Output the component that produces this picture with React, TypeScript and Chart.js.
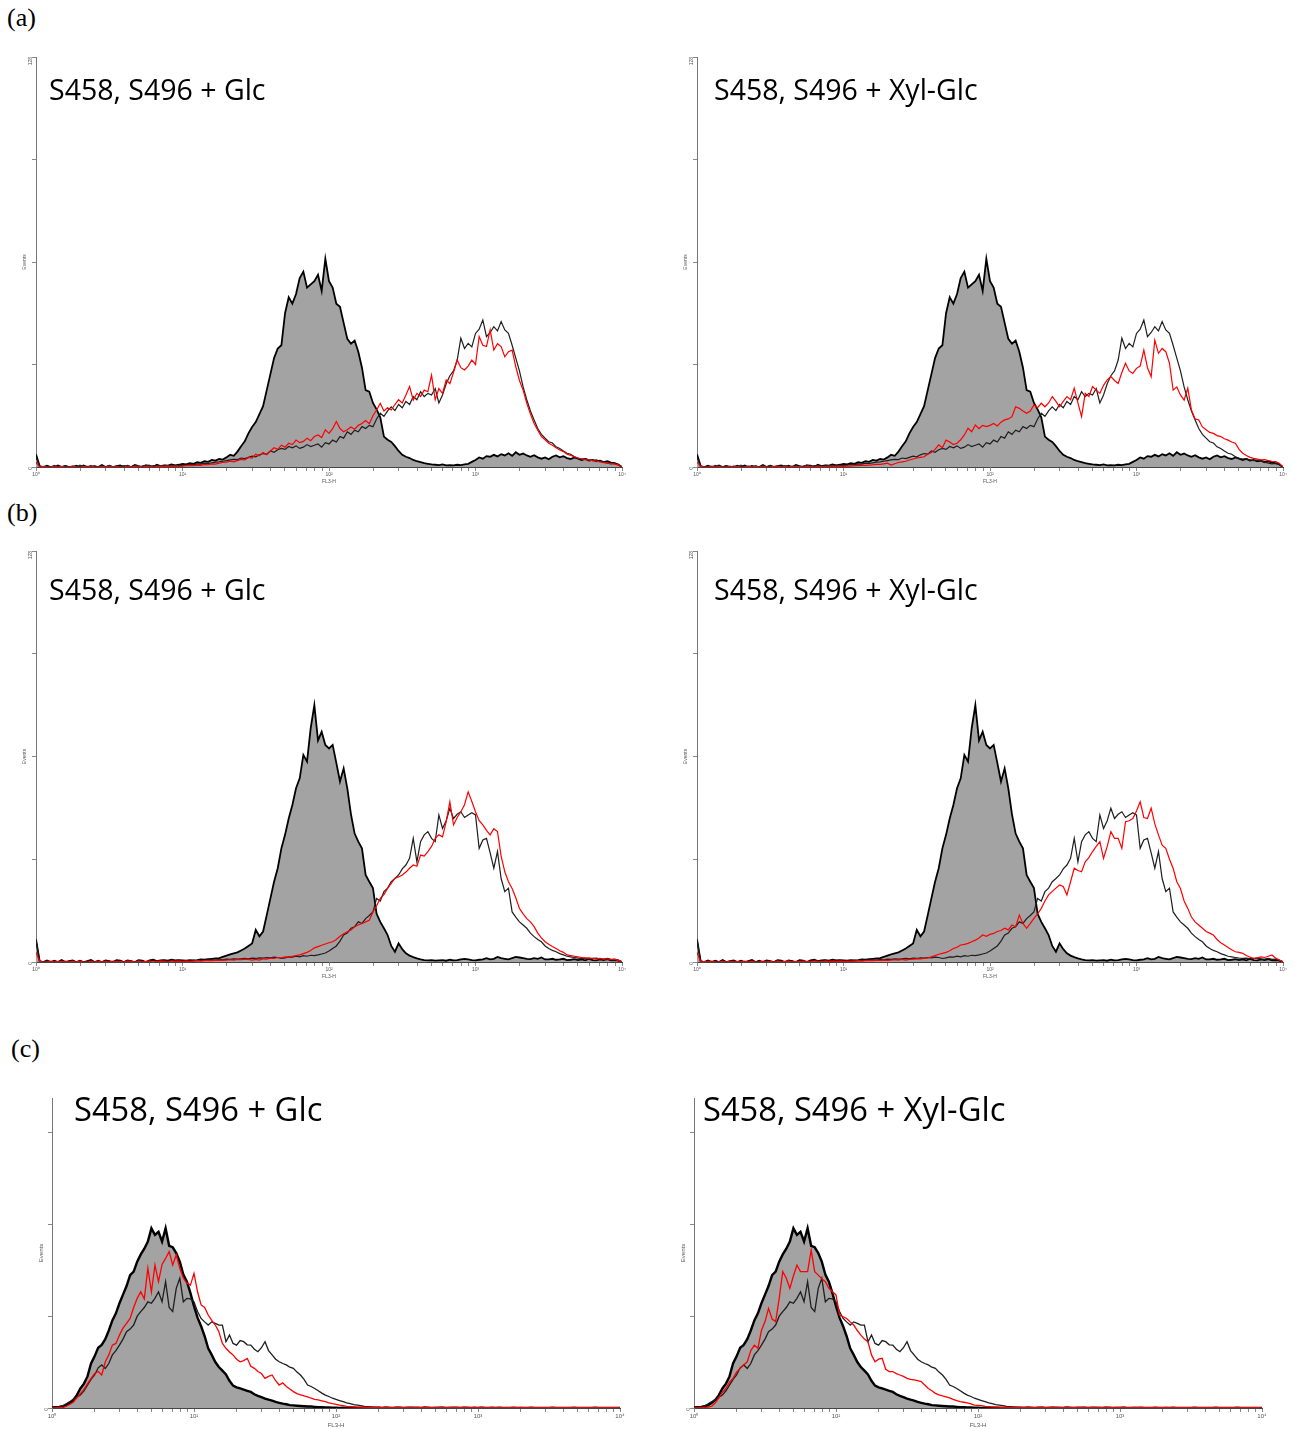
import React, { useEffect, useRef } from 'react';
import { Chart, registerables } from 'chart.js';

Chart.register(...registerables);

// ---------- axis / label data ----------
const LOG_STEP = 0.025; // histogram channels: 40 per decade, 10^0 .. 10^4
const X_DECADES = [1, 10, 100, 1000, 10000];
const X_TICK_LABELS = ['10\u2070', '10\u00b9', '10\u00b2', '10\u00b3', '10\u2074'];
const X_MINOR_STEPS = [1, 2, 3, 4, 5, 6, 7, 8, 9];
const Y_TICKS_AB = [0, 32, 64, 96, 128];
const Y_TICK_LABELS_AB = ['0', '', '', '', '128'];
const Y_TICKS_C = [0, 32, 64, 96];
const Y_TICK_LABELS_C = ['0', '', '', ''];
const Y_MAX_AB = 128;
const Y_MAX_C = 108;
const X_TITLE = 'FL3-H';
const Y_TITLE = 'Events';
const TITLE_GLC = 'S458, S496 + Glc';
const TITLE_XYL = 'S458, S496 + Xyl-Glc';
const PANEL_LABELS = ['(a)', '(b)', '(c)'];

// ---------- row (a) ----------
const GRAY_A = [
  4, 0.3, 0, 0.4, 0, 0, 0.5, 0, 0.3, 0,
  0, 0.4, 0, 0.5, 0, 0.3, 0, 0, 0.6, 0,
  0.4, 0, 0.3, 0.5, 0, 0.4, 0, 0.6, 0.3, 0,
  0.5, 0.4, 0, 0.7, 0.3, 0.5, 0.4, 0.8, 0.5, 0.7,
  1.0, 0.8, 1.2, 1.0, 1.5, 1.3, 1.8, 1.6, 2.2, 2.0,
  2.5, 2.3, 3.0, 3.8, 3.5, 4.8, 6.5, 8.0, 10.5, 12.5,
  14.0, 16.5, 19, 24, 29, 34, 37, 38, 48, 53,
  51, 54, 59, 61, 56, 57, 58, 60, 55, 65,
  58, 56, 51, 50, 45, 40, 38.5, 39.5, 36, 31,
  24, 23.5, 20, 18, 15.5, 9.5, 8.5, 7.8, 6.5, 5,
  3.8, 3.2, 2.8, 2.2, 1.8, 1.5, 1.2, 1.0, 0.8, 0.7,
  0.6, 0.8, 0.5, 0.6, 0.5, 0.7, 0.6, 0.8, 1.0, 1.6,
  2.2, 3.0, 2.6, 3.4, 3.2, 3.8, 3.3, 4.0, 3.6, 4.3,
  3.5, 4.6, 3.8, 4.2, 3.6, 3.2, 3.7, 3.0, 2.6, 3.0,
  2.4, 3.2, 3.6, 3.0, 3.4, 2.8, 2.5, 3.0, 2.6, 2.2,
  2.5, 2.0, 2.2, 1.8, 2.0, 1.5, 1.8, 1.4, 1.2, 0.8,
  0,
];
const BLACK_A = [
  3, 0.2, 0, 0.3, 0, 0.5, 0, 0, 0.4, 0,
  0.3, 0, 0.6, 0, 0.2, 0, 0.4, 0, 0.3, 0,
  0.5, 0, 0.3, 0, 0.4, 0.2, 0, 0.5, 0, 0.3,
  0.6, 0, 0.4, 0.3, 0, 0.5, 0.4, 0.3, 0.5, 0.4,
  0.5, 0.6, 0.8, 0.7, 1.0, 0.9, 1.2, 1.1, 1.3, 1.5,
  1.6, 1.8, 2.0, 2.2, 2.4, 2.3, 2.8, 2.6, 3.0, 3.4,
  3.2, 3.8, 4.2, 4.0, 5.0, 4.6, 5.4, 5.8, 5.5, 6.4,
  6.0, 6.6, 5.8, 6.2, 7.0, 6.4, 6.8, 7.2, 6.2, 7.6,
  7.2, 8.4, 7.8, 9.5, 9.0, 11.0, 10.2, 11.5, 11.0, 12.6,
  12.0, 13.0, 12.6, 15.0, 16.8, 15.8, 17.5, 18.8, 17.6, 19.5,
  18.5, 20.5, 19.5, 22.0, 21.0, 23.5, 22.0, 23.0, 22.5, 24.5,
  20.0, 22.5, 26.0, 28.5, 30.0, 33.4, 40.2, 37.0, 38.6, 37.5,
  41.7, 43.0, 45.9, 40.7, 42.0, 43.8, 42.5, 45.4, 42.8, 41.7,
  38.0, 34.0, 30.0, 25.0, 21.0, 17.5, 14.7, 12.0, 10.2, 9.0,
  7.9, 7.5, 6.3, 5.8, 5.0, 4.3, 4.0, 3.2, 2.7, 2.5,
  2.6, 2.2, 2.0, 2.2, 1.8, 1.5, 1.2, 1.0, 1.1, 0.8,
  0,
];
const RED_A_GLC = [
  1.5, 0, 0.2, 0, 0, 0.3, 0, 0.2, 0, 0,
  0.3, 0, 0, 0.2, 0, 0.3, 0, 0, 0.2, 0,
  0.3, 0, 0.2, 0, 0, 0.3, 0, 0.2, 0.3, 0,
  0.2, 0.3, 0, 0.2, 0.3, 0.2, 0.3, 0.2, 0.3, 0.2,
  0.3, 0.4, 0.5, 0.4, 0.6, 0.5, 0.8, 0.7, 1.0, 0.9,
  1.2, 1.4, 1.5, 1.8, 1.6, 2.0, 2.4, 2.2, 3.0, 2.8,
  4.0, 3.5, 4.5, 3.8, 5.0, 6.0, 5.5, 6.8, 6.2, 7.4,
  7.0, 8.4, 7.6, 8.0, 9.0, 8.2, 9.5, 10.0, 9.2, 11.6,
  10.5, 12.0, 14.2, 12.0, 11.0, 11.6, 12.5, 11.8, 13.0, 13.6,
  14.5, 13.5, 16.0, 17.8, 19.9, 17.5, 18.5, 17.8, 19.5, 21.0,
  20.0, 22.5, 25.1, 20.9, 23.0, 22.0, 24.0, 23.5, 28.7, 21.0,
  24.5, 23.0, 27.2, 26.0, 29.5, 33.4, 31.0, 30.3, 31.5, 33.4,
  32.0, 40.7, 38.0, 37.6, 42.8, 36.5, 38.5, 37.6, 34.4, 36.0,
  36.5, 31.3, 27.0, 24.0, 19.9, 16.5, 13.6, 11.5, 9.5, 8.5,
  7.4, 6.8, 6.0, 5.3, 4.8, 4.0, 3.6, 3.2, 2.8, 2.5,
  2.3, 2.2, 2.0, 1.8, 1.6, 1.4, 1.2, 1.1, 0.9, 0.6,
  0,
];
const RED_A_XYL = [
  1.5, 0.2, 0, 0, 0.3, 0, 0.2, 0, 0, 0.3,
  0, 0.2, 0, 0, 0.3, 0, 0.2, 0, 0.3, 0,
  0, 0.2, 0.3, 0, 0.2, 0, 0.3, 0, 0.2, 0,
  0.3, 0.2, 0, 0.3, 0.2, 0, 0.3, 0.2, 0.2, 0.3,
  0.2, 0.3, 0.3, 0.4, 0.4, 0.5, 0.5, 0.6, 0.7, 0.8,
  0.8, 1.0, 1.2, 0.6, 1.0, 1.4, 1.6, 1.8, 2.2, 2.5,
  2.8, 3.0, 3.2, 4.0, 4.5, 5.5, 6.9, 6.0, 8.4, 7.8,
  7.0, 7.4, 8.5, 10.0, 12.1, 11.0, 13.1, 12.0, 13.0, 12.6,
  13.0, 13.6, 12.8, 14.0, 14.7, 15.0, 15.7, 18.8, 18.3, 17.5,
  16.8, 17.5, 19.4, 18.5, 19.9, 18.8, 20.0, 22.0, 20.5, 18.8,
  20.5, 22.0, 21.0, 24.6, 20.0, 15.7, 23.0, 22.0, 25.1, 24.0,
  23.0, 25.5, 27.2, 28.2, 27.0, 26.1, 29.5, 32.4, 30.0, 29.2,
  30.8, 31.5, 36.5, 31.0, 28.2, 39.6, 35.5, 37.0, 36.0, 32.4,
  24.0, 25.0, 22.5, 20.9, 24.6, 17.8, 15.0, 14.7, 12.5, 11.6,
  10.8, 10.5, 9.8, 9.5, 8.8, 8.4, 7.8, 7.4, 5.5, 4.3,
  3.6, 3.0, 2.7, 2.5, 2.2, 2.3, 2.0, 1.8, 1.7, 1.2,
  0,
];

// ---------- row (b) ----------
const GRAY_B = [
  7, 0.3, 0, 0.5, 0, 0.4, 0, 0.6, 0, 0.3,
  0.5, 0, 0.4, 0, 0.3, 0.6, 0, 0.4, 0, 0.5,
  0.3, 0, 0.6, 0.4, 0, 0.5, 0.3, 0, 0.6, 0.4,
  0, 0.5, 0.7, 0.3, 0.5, 0.6, 0.4, 0.7, 0.5, 0.6,
  0.5, 0.4, 0.6, 0.5, 0.6, 0.8, 0.7, 0.9, 1.0, 1.1,
  1.2, 1.6, 2.0, 2.4, 2.7, 3.0, 3.6, 4.2, 5.0, 5.8,
  10.0, 8.0, 9.5, 14.6, 19.8, 25.0, 29.2, 35.4, 39.6, 44.7,
  48.9, 54.1, 57.2, 64.5, 62.4, 72.8, 80.0, 69.0, 71.7, 67.6,
  66.5, 67.6, 62.0, 56.2, 60.3, 54.1, 46.0, 40.0, 37.5, 35.4,
  27.1, 25.0, 23.0, 15.0, 12.5, 10.5, 8.4, 5.0, 3.2, 5.8,
  4.0, 2.7, 2.0, 1.5, 1.1, 0.8, 0.6, 0.5, 0.6, 0.4,
  0.5, 0.6, 0.4, 0.7, 0.5, 0.6, 0.8, 1.0, 0.8, 0.6,
  0.5, 0.7, 0.8, 1.2, 0.8, 1.0, 1.6, 1.2, 1.0, 0.8,
  1.2, 1.6, 1.4, 1.2, 1.0, 0.9, 1.2, 1.0, 1.4, 0.8,
  0.8, 1.0, 0.7, 0.8, 1.0, 0.6, 0.7, 0.9, 0.6, 0.8,
  0.5, 1.0, 0.6, 0.5, 0.8, 0.6, 0.9, 0.5, 0.6, 0.4,
  0,
];
const BLACK_B = [
  7, 0.2, 0, 0.4, 0, 0.3, 0, 0.5, 0, 0.2,
  0.4, 0, 0.3, 0, 0.2, 0.5, 0, 0.3, 0, 0.4,
  0.2, 0, 0.5, 0.3, 0, 0.4, 0.2, 0, 0.5, 0.3,
  0, 0.4, 0.6, 0.2, 0.4, 0.5, 0.3, 0.6, 0.4, 0.5,
  0.3, 0.4, 0.3, 0.5, 0.4, 0.5, 0.6, 0.5, 0.7, 0.6,
  0.8, 0.7, 0.9, 0.8, 1.0, 0.9, 1.0, 1.1, 1.0, 1.2,
  1.1, 1.3, 1.2, 1.4, 1.3, 1.5, 1.4, 1.1, 1.3, 1.6,
  1.5, 1.8, 1.6, 2.0, 1.8, 2.1, 2.0, 2.2, 2.5, 2.8,
  3.4, 4.2, 5.0, 6.5, 8.4, 9.0, 10.5, 11.0, 12.5, 12.0,
  13.5, 14.5, 15.6, 19.8, 19.0, 21.9, 23.0, 25.0, 26.0, 27.1,
  29.0, 30.2, 32.3, 38.5, 31.2, 37.5, 39.6, 40.6, 38.5, 37.5,
  45.8, 41.6, 44.0, 47.9, 44.7, 46.0, 46.8, 45.0, 45.8, 46.5,
  45.8, 35.4, 38.0, 38.5, 34.0, 29.2, 34.4, 26.0, 21.9, 23.0,
  15.6, 14.0, 12.5, 11.5, 10.5, 9.0, 7.9, 7.0, 6.3, 5.0,
  4.2, 3.6, 3.2, 2.6, 2.2, 1.8, 1.6, 1.4, 1.2, 1.1,
  1.2, 1.0, 1.1, 1.2, 1.0, 0.9, 1.1, 0.8, 0.9, 0.6,
  0,
];
const RED_B_GLC = [
  3, 0.2, 0, 0, 0.3, 0, 0.2, 0, 0.3, 0,
  0.2, 0, 0.3, 0, 0, 0.2, 0, 0.3, 0, 0.2,
  0, 0.3, 0, 0.2, 0, 0.3, 0.2, 0, 0.3, 0,
  0.2, 0.3, 0, 0.2, 0.3, 0.2, 0, 0.3, 0.2, 0.3,
  0.2, 0.3, 0.2, 0.3, 0.4, 0.3, 0.4, 0.5, 0.4, 0.5,
  0.6, 0.5, 0.6, 0.7, 0.6, 0.8, 0.7, 0.9, 0.8, 0.6,
  0.8, 0.6, 1.0, 0.9, 1.2, 1.1, 1.4, 1.3, 1.6, 1.5,
  1.8, 2.0, 2.2, 2.6, 3.0, 3.6, 4.4, 4.8, 5.2, 5.6,
  6.0, 6.3, 7.0, 8.0, 8.8, 9.4, 10.0, 11.0, 11.5, 12.0,
  12.5, 13.0, 15.6, 17.5, 19.8, 21.0, 22.9, 24.5, 26.1, 26.5,
  27.1, 28.0, 29.2, 30.2, 29.8, 33.3, 33.0, 34.4, 36.0, 38.5,
  39.6, 39.0, 43.7, 49.9, 42.7, 45.0, 46.8, 49.0, 53.0, 50.0,
  46.8, 44.0, 42.7, 41.0, 39.6, 41.5, 40.6, 33.0, 28.1, 25.0,
  22.9, 20.0, 16.7, 15.0, 13.5, 12.5, 11.0, 9.0, 7.5, 6.3,
  5.5, 4.8, 4.2, 3.5, 3.0, 2.2, 2.0, 1.8, 1.6, 1.4,
  1.2, 1.3, 1.1, 1.0, 1.1, 0.9, 1.0, 0.7, 0.8, 0.5,
  0,
];
const RED_B_XYL = [
  3, 0, 0.2, 0, 0.3, 0, 0, 0.2, 0, 0.3,
  0, 0.2, 0, 0.3, 0, 0.2, 0, 0, 0.3, 0,
  0.2, 0, 0.3, 0, 0.2, 0.3, 0, 0.2, 0, 0.3,
  0.2, 0, 0.3, 0.2, 0, 0.3, 0.2, 0.3, 0.2, 0.3,
  0.2, 0.2, 0.3, 0.3, 0.4, 0.3, 0.4, 0.5, 0.4, 0.5,
  0.5, 0.6, 0.5, 0.6, 0.7, 0.6, 0.8, 0.6, 0.8, 0.9,
  1.0, 1.0, 1.1, 1.3, 1.6, 2.0, 2.4, 2.7, 3.0, 3.5,
  4.2, 4.6, 5.3, 5.5, 5.8, 6.3, 6.8, 7.5, 8.4, 8.0,
  8.6, 8.9, 9.5, 9.8, 10.5, 10.0, 11.5, 11.0, 14.6, 12.0,
  10.5, 12.0, 13.6, 15.0, 16.7, 19.0, 20.9, 22.0, 23.0, 24.0,
  23.5, 20.9, 25.0, 29.2, 28.5, 28.1, 31.2, 32.5, 34.4, 36.0,
  37.5, 32.3, 36.0, 40.6, 38.5, 38.5, 35.4, 43.7, 44.0, 44.7,
  47.0, 49.9, 45.0, 44.7, 47.9, 43.0, 39.6, 36.4, 35.4, 32.0,
  29.2, 25.0, 22.9, 19.0, 16.7, 14.0, 12.5, 11.5, 10.5, 9.5,
  9.0, 8.4, 7.0, 6.0, 5.3, 4.5, 3.8, 3.2, 3.0, 2.7,
  2.0, 1.5, 1.1, 1.3, 1.6, 1.4, 1.8, 2.2, 1.2, 0.6,
  0,
];

// ---------- row (c) ----------
const GRAY_C = [
  0.2, 0.3, 0.4, 0.6, 1.0, 1.8, 2.8, 4.5, 6.8, 8.5,
  11.0, 15.5, 18.0, 21.0, 22.0, 24.0, 27.0, 30.5, 33.0, 36.5,
  39.5, 42.5, 46.3, 47.5, 51.0, 53.5, 55.5, 58.0, 62.6, 60.3,
  61.4, 58.0, 62.6, 56.5, 56.0, 54.0, 51.0, 46.5, 44.0, 40.0,
  35.5, 31.5, 28.5, 25.0, 20.8, 18.5, 16.0, 14.3, 13.0, 11.7,
  9.5, 7.8, 7.2, 6.8, 6.4, 6.0, 5.6, 4.8, 4.2, 3.8,
  3.3, 2.9, 2.6, 2.1, 1.8, 1.5, 1.3, 1.0, 0.9, 0.8,
  0.7, 0.6, 0.5, 0.5, 0.4, 0.3, 0.3, 0.2, 0.2, 0.1,
  0.1, 0, 0.1, 0, 0, 0.1, 0, 0, 0.1, 0,
  0, 0.1, 0, 0, 0.1, 0, 0, 0, 0.1, 0,
  0, 0, 0.1, 0, 0, 0.1, 0, 0, 0, 0.1,
  0, 0, 0, 0.1, 0, 0, 0, 0.1, 0, 0,
  0, 0.1, 0, 0, 0, 0, 0.1, 0, 0, 0,
  0.1, 0, 0, 0, 0, 0.1, 0, 0, 0, 0,
  0, 0.1, 0, 0, 0, 0, 0, 0.1, 0, 0,
  0, 0, 0, 0.1, 0, 0, 0, 0, 0, 0,
  0,
];
const BLACK_C = [
  0, 0.1, 0.3, 0.8, 1.5, 2.2, 3.0, 3.8, 4.5, 6.0,
  8.0, 10.0, 11.5, 14.0, 15.0, 13.8, 15.5, 18.5, 20.0, 21.9,
  24.0, 26.6, 27.5, 28.9, 32.0, 33.6, 35.0, 37.0, 36.5, 38.2,
  40.5, 37.0, 44.0, 35.0, 33.6, 41.7, 45.2, 37.0, 38.2, 38.0,
  37.0, 33.6, 31.2, 30.0, 28.9, 30.0, 29.5, 28.9, 28.9, 23.1,
  25.4, 22.5, 21.9, 23.5, 23.1, 22.0, 21.9, 20.5, 19.6, 21.0,
  23.1, 20.0, 18.5, 17.0, 16.1, 15.5, 15.0, 14.2, 13.8, 12.5,
  11.5, 10.0, 8.0, 7.5, 6.8, 6.0, 5.2, 4.5, 4.0, 3.4,
  3.0, 2.6, 2.2, 1.8, 1.5, 1.2, 1.0, 0.8, 0.6, 0.5,
  0.4, 0.2, 0.3, 0.1, 0.3, 0.2, 0.1, 0.3, 0.2, 0.1,
  0.2, 0.3, 0.1, 0.2, 0.1, 0.3, 0.2, 0.1, 0.2, 0.1,
  0.3, 0.1, 0.2, 0.1, 0.2, 0.1, 0.3, 0.1, 0.1, 0.2,
  0.1, 0.2, 0.1, 0.1, 0.2, 0.1, 0, 0.1, 0.1, 0,
  0.1, 0, 0.1, 0, 0.1, 0, 0, 0.1, 0, 0,
  0.1, 0, 0, 0.1, 0, 0, 0, 0.1, 0, 0,
  0, 0.1, 0, 0, 0, 0.1, 0, 0, 0, 0,
  0,
];
const RED_C_GLC = [
  0, 0, 0.1, 0.1, 0.6, 1.2, 2.0, 3.5, 5.0, 6.5,
  8.5, 10.3, 12.0, 12.7, 11.5, 16.0, 18.5, 21.9, 22.5, 25.4,
  27.8, 29.5, 31.2, 35.0, 38.2, 40.5, 38.0, 48.7, 40.5, 49.8,
  44.0, 50.0, 52.1, 54.5, 49.8, 53.3, 48.7, 45.2, 43.5, 42.8,
  46.9, 40.5, 35.9, 35.0, 32.4, 30.5, 28.9, 26.6, 22.5, 20.8,
  19.5, 18.5, 17.0, 16.1, 16.5, 17.3, 14.5, 13.8, 12.7, 12.0,
  10.3, 11.0, 11.5, 9.5, 8.0, 8.8, 7.5, 6.6, 5.7, 5.0,
  4.6, 4.2, 3.9, 3.4, 3.0, 2.8, 2.5, 2.2, 1.8, 1.5,
  1.3, 1.0, 0.8, 0.6, 0.5, 0.4, 0.3, 0.3, 0.2, 0.2,
  0.2, 0.1, 0.2, 0.1, 0.2, 0.1, 0.1, 0.2, 0.1, 0.1,
  0.2, 0.1, 0.1, 0.2, 0.1, 0.1, 0.2, 0.1, 0.1, 0.1,
  0.2, 0.1, 0.1, 0.1, 0.2, 0.1, 0.1, 0.1, 0.1, 0.2,
  0.1, 0.1, 0.1, 0.1, 0.2, 0.1, 0.1, 0.1, 0.1, 0.1,
  0.1, 0.1, 0.2, 0.1, 0.1, 0.1, 0.1, 0.1, 0.1, 0.1,
  0.1, 0.1, 0.1, 0.1, 0.1, 0.1, 0.1, 0.1, 0.1, 0.1,
  0.1, 0.1, 0.1, 0.1, 0.1, 0.1, 0.1, 0.1, 0.1, 0.1,
  0,
];
const RED_C_XYL = [
  0, 0, 0.1, 0.2, 0.3, 0.6, 1.8, 3.5, 5.5, 6.8,
  9.0, 10.3, 12.5, 13.8, 15.0, 16.1, 20.0, 21.9, 20.8, 27.0,
  30.1, 34.7, 31.0, 30.1, 38.2, 47.5, 45.2, 41.7, 46.0, 49.8,
  47.5, 47.5, 47.5, 55.0, 47.5, 46.3, 45.0, 44.0, 41.7, 40.5,
  39.4, 32.4, 31.8, 31.2, 30.0, 28.9, 27.0, 25.4, 24.0, 23.1,
  18.5, 16.1, 17.0, 17.3, 13.5, 12.7, 12.7, 12.0, 11.5, 11.0,
  10.3, 10.0, 9.8, 9.5, 9.2, 8.0, 6.8, 6.0, 5.1, 4.6,
  4.2, 3.9, 3.5, 3.0, 2.6, 2.2, 2.0, 1.8, 1.4, 1.0,
  0.9, 0.8, 0.6, 0.5, 0.4, 0.3, 0.3, 0.2, 0.2, 0.1,
  0.2, 0.1, 0.1, 0.2, 0.1, 0.2, 0.1, 0.1, 0.2, 0.1,
  0.1, 0.2, 0.1, 0.1, 0.1, 0.2, 0.1, 0.1, 0.2, 0.1,
  0.1, 0.1, 0.2, 0.1, 0.1, 0.1, 0.2, 0.1, 0.1, 0.1,
  0.2, 0.1, 0.1, 0.1, 0.1, 0.2, 0.1, 0.1, 0.1, 0.1,
  0.1, 0.1, 0.1, 0.2, 0.1, 0.1, 0.1, 0.1, 0.1, 0.1,
  0.1, 0.1, 0.1, 0.1, 0.1, 0.1, 0.1, 0.1, 0.1, 0.1,
  0.1, 0.1, 0.1, 0.1, 0.1, 0.1, 0.1, 0.1, 0.1, 0.1,
  0,
];

// ---------- layout ----------
type Panel = {
  left: number; top: number; width: number; height: number;
  yMax: number; yTicks: number[]; yLabels: string[];
  gray: number[]; black: number[]; red: number[];
  grayWidth: number; lineWidth: number; xFont: number; xAxisH: number;
};

const AXIS_W = 14;
const PAD_T = 8;
const PAD_R = 10;

const PANELS: Panel[] = [
  { left: 36, top: 57, width: 586, height: 410, yMax: Y_MAX_AB, yTicks: Y_TICKS_AB, yLabels: Y_TICK_LABELS_AB, gray: GRAY_A, black: BLACK_A, red: RED_A_GLC, grayWidth: 1.8, lineWidth: 1.2, xFont: 5, xAxisH: 18 },
  { left: 697, top: 57, width: 586, height: 410, yMax: Y_MAX_AB, yTicks: Y_TICKS_AB, yLabels: Y_TICK_LABELS_AB, gray: GRAY_A, black: BLACK_A, red: RED_A_XYL, grayWidth: 1.8, lineWidth: 1.2, xFont: 5, xAxisH: 18 },
  { left: 36, top: 551, width: 586, height: 411, yMax: Y_MAX_AB, yTicks: Y_TICKS_AB, yLabels: Y_TICK_LABELS_AB, gray: GRAY_B, black: BLACK_B, red: RED_B_GLC, grayWidth: 1.8, lineWidth: 1.2, xFont: 5, xAxisH: 18 },
  { left: 697, top: 551, width: 586, height: 411, yMax: Y_MAX_AB, yTicks: Y_TICKS_AB, yLabels: Y_TICK_LABELS_AB, gray: GRAY_B, black: BLACK_B, red: RED_B_XYL, grayWidth: 1.8, lineWidth: 1.2, xFont: 5, xAxisH: 18 },
  { left: 52, top: 1098, width: 568, height: 310, yMax: Y_MAX_C, yTicks: Y_TICKS_C, yLabels: Y_TICK_LABELS_C, gray: GRAY_C, black: BLACK_C, red: RED_C_GLC, grayWidth: 2.4, lineWidth: 1.3, xFont: 6, xAxisH: 21 },
  { left: 694, top: 1098, width: 568, height: 310, yMax: Y_MAX_C, yTicks: Y_TICKS_C, yLabels: Y_TICK_LABELS_C, gray: GRAY_C, black: BLACK_C, red: RED_C_XYL, grayWidth: 2.4, lineWidth: 1.3, xFont: 6, xAxisH: 21 },
];

const TITLES = [
  { text: TITLE_GLC, x: 49, baseline: 100, size: 28.5 },
  { text: TITLE_XYL, x: 714, baseline: 100, size: 28.5 },
  { text: TITLE_GLC, x: 49, baseline: 600, size: 28.5 },
  { text: TITLE_XYL, x: 714, baseline: 600, size: 28.5 },
  { text: TITLE_GLC, x: 74, baseline: 1122, size: 32.7 },
  { text: TITLE_XYL, x: 703, baseline: 1122, size: 32.7 },
];
const LABEL_SIZE = 26;
const LABEL_POS = [
  { x: 7, baseline: 27 },
  { x: 7, baseline: 522 },
  { x: 11, baseline: 1058 },
];

function toPoints(vals: number[]) {
  return vals.map((v, i) => ({ x: Math.pow(10, i * LOG_STEP), y: v }));
}

function xTickValues(): number[] {
  const out: number[] = [];
  for (let d = 0; d < X_DECADES.length - 1; d++) {
    for (const m of X_MINOR_STEPS) out.push(X_DECADES[d] * m);
  }
  out.push(X_DECADES[X_DECADES.length - 1]);
  return out;
}

function HistPanel({ p }: { p: Panel }) {
  const ref = useRef<HTMLCanvasElement>(null);
  const cw = p.width + AXIS_W + PAD_R;
  const ch = p.height + PAD_T + p.xAxisH;
  useEffect(() => {
    if (!ref.current) return;
    const chart = new Chart(ref.current, {
      type: 'line',
      data: {
        datasets: [
          { data: toPoints(p.red), borderColor: '#ff0000', borderWidth: p.lineWidth, fill: false, order: 0, pointRadius: 0 },
          { data: toPoints(p.black), borderColor: '#1e1e1e', borderWidth: p.lineWidth, fill: false, order: 1, pointRadius: 0 },
          { data: toPoints(p.gray), borderColor: '#000000', backgroundColor: '#a3a3a3', borderWidth: p.grayWidth, fill: 'origin', order: 2, pointRadius: 0 },
        ],
      },
      options: {
        animation: false,
        responsive: false,
        maintainAspectRatio: false,
        devicePixelRatio: 1,
        events: [],
        layout: { autoPadding: false, padding: { left: 0, top: PAD_T, right: PAD_R, bottom: 0 } },
        elements: { point: { radius: 0 }, line: { tension: 0 } },
        plugins: { legend: { display: false }, tooltip: { enabled: false } },
        scales: {
          x: {
            type: 'logarithmic',
            min: 1,
            max: 10000,
            afterBuildTicks: (s: any) => { s.ticks = xTickValues().map((v) => ({ value: v })); },
            afterFit: (s: any) => { s.height = p.xAxisH; },
            ticks: {
              autoSkip: false, maxRotation: 0, minRotation: 0, padding: 1,
              font: { size: p.xFont, family: 'Liberation Sans' }, color: '#555',
              callback: (v: any) => { const k = X_DECADES.indexOf(Number(v)); return k >= 0 ? X_TICK_LABELS[k] : ''; },
            },
            grid: { display: true, drawOnChartArea: false, drawTicks: true, tickLength: 4, color: '#888', lineWidth: 1 },
            border: { display: true, color: '#444', width: 1 },
            title: { display: true, text: X_TITLE, font: { size: p.xFont, family: 'Liberation Sans' }, color: '#555', padding: 0 },
          },
          y: {
            type: 'linear',
            min: 0,
            max: p.yMax,
            afterBuildTicks: (s: any) => { s.ticks = p.yTicks.map((v) => ({ value: v })); },
            afterFit: (s: any) => { s.width = AXIS_W; },
            ticks: {
              autoSkip: false, padding: 1, minRotation: 90, maxRotation: 90,
              font: { size: 5, family: 'Liberation Sans' }, color: '#555',
              callback: (v: any) => { const k = p.yTicks.indexOf(Number(v)); return k >= 0 ? p.yLabels[k] : ''; },
            },
            grid: { display: true, drawOnChartArea: false, drawTicks: true, tickLength: 4, color: '#888', lineWidth: 1 },
            border: { display: true, color: '#777', width: 1 },
            title: { display: true, text: Y_TITLE, font: { size: p.xFont, family: 'Liberation Sans' }, color: '#555', padding: 0 },
          },
        },
      } as any,
    });
    return () => chart.destroy();
  }, []);
  return (
    <canvas
      ref={ref}
      width={cw}
      height={ch}
      style={{ position: 'absolute', left: p.left - AXIS_W, top: p.top - PAD_T, width: cw, height: ch }}
    />
  );
}

export default function App() {
  return (
    <div style={{ position: 'absolute', left: 0, top: 0, width: 1294, height: 1429, background: '#fff', overflow: 'hidden' }}>
      {PANELS.map((p, i) => <HistPanel key={i} p={p} />)}
      {TITLES.map((t, i) => (
        <div key={'t' + i} style={{
          position: 'absolute', left: t.x, top: t.baseline - 0.888 * t.size,
          fontFamily: '"Open Sans", "Noto Sans", sans-serif', fontSize: t.size, lineHeight: `${t.size}px`,
          whiteSpace: 'nowrap', color: '#000',
        }}>{t.text}</div>
      ))}
      {PANEL_LABELS.map((l, i) => (
        <div key={'l' + i} style={{
          position: 'absolute', left: LABEL_POS[i].x, top: LABEL_POS[i].baseline - 0.8375 * LABEL_SIZE,
          fontFamily: '"Liberation Serif", "Times New Roman", serif', fontSize: LABEL_SIZE, lineHeight: `${LABEL_SIZE}px`,
          whiteSpace: 'nowrap', color: '#000',
        }}>{l}</div>
      ))}
    </div>
  );
}
